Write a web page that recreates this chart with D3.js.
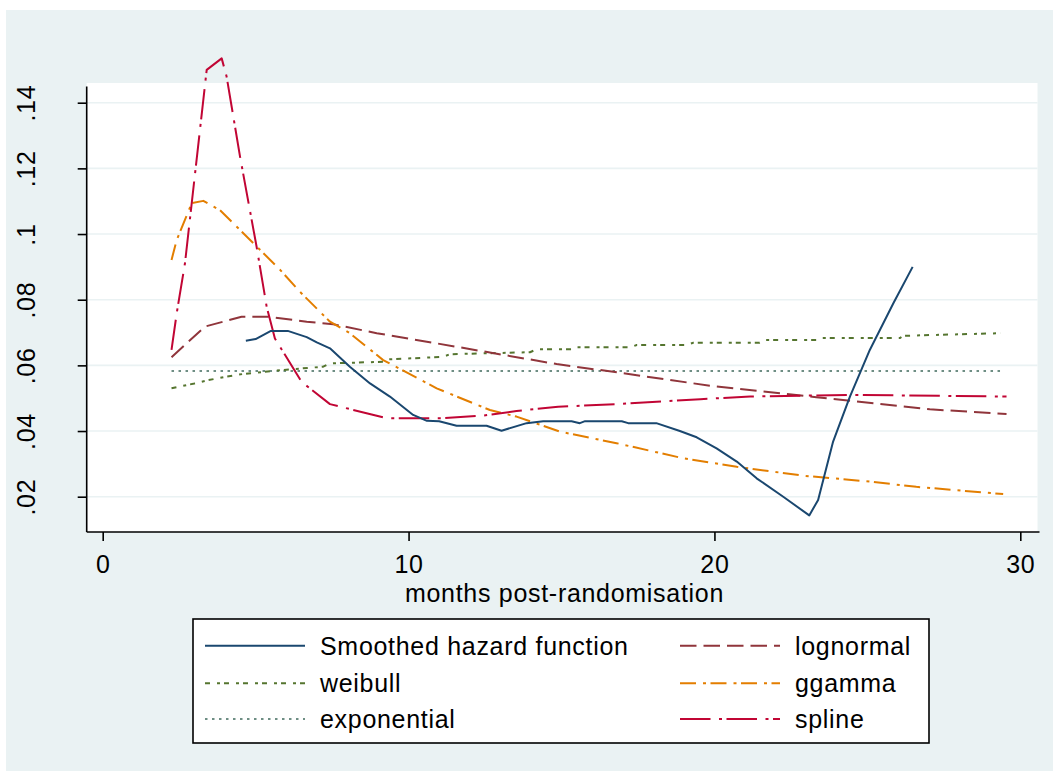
<!DOCTYPE html>
<html><head><meta charset="utf-8">
<script src="https://cdn.jsdelivr.net/npm/d3@7"></script>
<style>body{margin:0;background:#fff}svg{display:block;font-family:"Liberation Sans",Arial,sans-serif}</style>
</head><body><svg id="c" width="1053" height="771"></svg>
<script>
// ---- data ----
const xTicks = [0, 10, 20, 30];
const yTicks = [0.02, 0.04, 0.06, 0.08, 0.10, 0.12, 0.14];
const yTickLabels = [".02", ".04", ".06", ".08", ".1", ".12", ".14"];
const xTitle = "months post-randomisation";

const smoothedX = [4.68, 5.0, 5.5, 6.05, 6.67, 7.0, 7.43, 8.08, 8.74, 9.39, 10.15, 10.6, 11.0, 11.57, 12.55, 13.04, 13.86, 14.4, 15.33, 15.6, 15.77, 16.97, 17.18, 18.1, 18.87, 19.42, 20.07, 20.73, 21.38, 22.25, 23.1, 23.39, 23.88, 24.43, 25.08, 25.85, 26.48];
const smoothedY = [0.0675, 0.068, 0.0705, 0.0705, 0.0686, 0.067, 0.0652, 0.0596, 0.0545, 0.0505, 0.0449, 0.0431, 0.043, 0.0416, 0.0416, 0.0401, 0.0424, 0.043, 0.043, 0.0424, 0.043, 0.043, 0.0424, 0.0424, 0.040, 0.0381, 0.0347, 0.0307, 0.0256, 0.020, 0.0143, 0.019, 0.0368, 0.0505, 0.0647, 0.0789, 0.09];

const lognormalX = [2.25, 3.34, 4.54, 5.41, 6.67, 7.54, 8.96, 10.92, 13.1, 14.84, 17.02, 19.85, 23.33, 27.04, 29.55];
const lognormalY = [0.0625, 0.0718, 0.0748, 0.0748, 0.0733, 0.0725, 0.0698, 0.0667, 0.0632, 0.0604, 0.0576, 0.0538, 0.0503, 0.0466, 0.0452];

const weibullX = [2.25, 3.0, 3.45, 4.0, 4.6, 5.9, 7.21, 7.43, 9.17, 9.28, 11.13, 11.35, 13.97, 14.19, 15.38, 15.5, 17.24, 17.46, 19.09, 19.31, 21.48, 21.65, 23.34, 23.5, 26.06, 26.17, 29.34];
const weibullY = [0.053, 0.0545, 0.0555, 0.0565, 0.0574, 0.0586, 0.0596, 0.0606, 0.0611, 0.0618, 0.0626, 0.0634, 0.064, 0.0649, 0.0649, 0.0655, 0.0655, 0.0662, 0.0662, 0.0669, 0.0669, 0.0677, 0.0677, 0.0683, 0.0683, 0.069, 0.0698];

const exponentialX = [2.25, 29.44];
const exponentialY = [0.0583, 0.0583];

const ggammaX = [2.25, 2.42, 2.91, 3.29, 3.83, 4.82, 5.8, 6.45, 7.43, 8.08, 9.17, 10.92, 12.66, 13.53, 14.95, 16.8, 18.98, 20.73, 22.9, 25.08, 26.6, 29.44];
const ggammaY = [0.0921, 0.0982, 0.1094, 0.1101, 0.1073, 0.0982, 0.0891, 0.0824, 0.0733, 0.0698, 0.0616, 0.053, 0.0464, 0.0444, 0.0398, 0.0363, 0.0317, 0.0291, 0.0264, 0.0246, 0.023, 0.0208];

const splineX = [2.25, 2.42, 2.69, 3.02, 3.4, 3.89, 4.05, 4.49, 5.03, 5.36, 5.63, 6.5, 7.43, 9.28, 11.13, 12.44, 13.53, 14.89, 16.8, 19.54, 21.17, 24.43, 29.55];
const splineY = [0.0647, 0.0759, 0.0911, 0.1185, 0.15, 0.1535, 0.148, 0.1236, 0.0962, 0.0779, 0.0682, 0.055, 0.0482, 0.0439, 0.0439, 0.0447, 0.0461, 0.0474, 0.0482, 0.0497, 0.0505, 0.051, 0.0505];

const seriesNames = ["Smoothed hazard function", "lognormal", "weibull", "ggamma", "exponential", "spline"];

// ---- styles ----
const series = [
  {name: seriesNames[0], xs: smoothedX, ys: smoothedY, color: "#1a476f", dash: null, col: 0, row: 0},
  {name: seriesNames[1], xs: lognormalX, ys: lognormalY, color: "#90353b", dash: "16.5,7", col: 1, row: 0},
  {name: seriesNames[2], xs: weibullX, ys: weibullY, color: "#55752f", dash: "5,7,3,4", col: 0, row: 1},
  {name: seriesNames[3], xs: ggammaX, ys: ggammaY, color: "#e37e00", dash: "16,7,3,4.5", col: 1, row: 1},
  {name: seriesNames[4], xs: exponentialX, ys: exponentialY, color: "#6e8e84", dash: "2.5,4.5", col: 0, row: 2},
  {name: seriesNames[5], xs: splineX, ys: splineY, color: "#c10534", dash: "30.5,8.5,3,4.5", col: 1, row: 2}
];

const FS = 25, LS = "0.7px";
const svg = d3.select("#c");
const bg = "#eaf2f3";
svg.append("rect").attr("x", 6).attr("y", 10).attr("width", 1047).attr("height", 761).attr("fill", bg);

const x = d3.scaleLinear().domain([0, 30]).range([102.7, 1020.3]);
const y = d3.scaleLinear().domain([0.02, 0.14]).range([496.7, 102.7]);
const plotL = 86.7, plotR = 1037.5, plotT = 83, plotB = 532;

svg.append("rect").attr("x", plotL).attr("y", plotT).attr("width", plotR - plotL).attr("height", plotB - plotT).attr("fill", "#fff");

// gridlines
svg.append("g").selectAll("line").data(yTicks).join("line")
  .attr("x1", plotL).attr("x2", plotR)
  .attr("y1", d => y(d)).attr("y2", d => y(d))
  .attr("stroke", bg).attr("stroke-width", 1.6);

// y axis
const yAxis = d3.axisLeft(y).tickValues(yTicks).tickSize(9).tickPadding(42)
  .tickFormat((d, i) => yTickLabels[i]);
const gy = svg.append("g").attr("transform", `translate(${plotL},0)`).call(yAxis);
gy.select(".domain").attr("d", `M0,${86.5}V${plotB}`).attr("stroke", "#000").attr("stroke-width", 1.6);
gy.selectAll(".tick line").attr("stroke", "#000").attr("stroke-width", 1.6);
gy.selectAll(".tick text")
  .attr("x", null).attr("dy", null)
  .attr("transform", "translate(-51.5,0) rotate(-90)")
  .attr("text-anchor", "middle")
  .attr("font-size", FS).attr("letter-spacing", LS).attr("fill", "#000").attr("font-family", "Liberation Sans, Arial, sans-serif");

// x axis
const xAxis = d3.axisBottom(x).tickValues(xTicks).tickSize(9).tickPadding(14).tickFormat(d3.format("d"));
const gx = svg.append("g").attr("transform", `translate(0,${plotB})`).call(xAxis);
gx.select(".domain").attr("d", `M${plotL},0H${plotR + 2}`).attr("stroke", "#000").attr("stroke-width", 1.6);
gx.selectAll(".tick line").attr("stroke", "#000").attr("stroke-width", 1.6);
gx.selectAll(".tick text").attr("font-size", FS).attr("letter-spacing", LS).attr("fill", "#000").attr("font-family", "Liberation Sans, Arial, sans-serif");

svg.append("text").attr("x", (x(0) + x(30)) / 2 + 3).attr("y", 602).attr("text-anchor", "middle")
  .attr("font-size", FS).attr("letter-spacing", LS).attr("fill", "#000").text(xTitle);

// lines
const line = d3.line().x(d => x(d[0])).y(d => y(d[1]));
const order = [4, 2, 1, 3, 5, 0];
svg.append("g").selectAll("path").data(order.map(i => series[i])).join("path")
  .attr("d", s => line(s.xs.map((v, i) => [v, s.ys[i]])))
  .attr("fill", "none").attr("stroke", s => s.color).attr("stroke-width", 2)
  .attr("stroke-dasharray", s => s.dash).attr("stroke-linejoin", "round");

// legend
const lg = svg.append("g");
lg.append("rect").attr("x", 193).attr("y", 619).attr("width", 736).attr("height", 124)
  .attr("fill", "#fff").attr("stroke", "#000").attr("stroke-width", 1.6);
const rowY = [645.7, 683.3, 719];
const colX = [205, 680];
const items = lg.selectAll("g.it").data(series).join("g").attr("class", "it");
items.append("line")
  .attr("x1", s => colX[s.col]).attr("x2", s => colX[s.col] + 100)
  .attr("y1", s => rowY[s.row]).attr("y2", s => rowY[s.row])
  .attr("stroke", s => s.color).attr("stroke-width", 2).attr("stroke-dasharray", s => s.dash);
items.append("text")
  .attr("x", s => colX[s.col] + 115).attr("y", s => rowY[s.row] + 9)
  .attr("font-size", FS).attr("letter-spacing", LS).attr("fill", "#000").text(s => s.name);
</script></body></html>
